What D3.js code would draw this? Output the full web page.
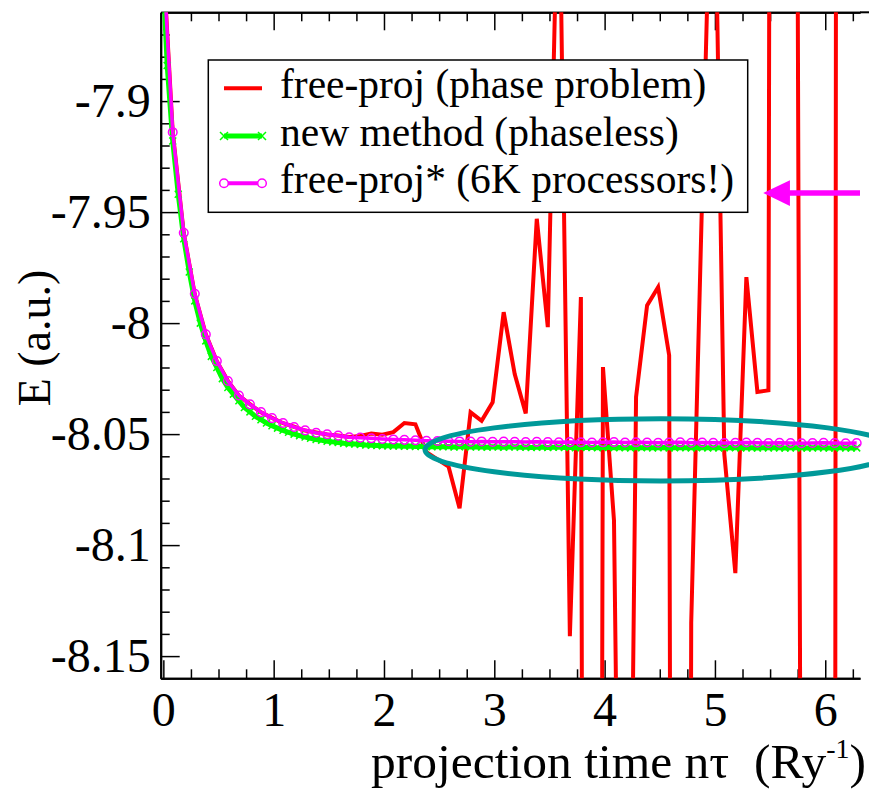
<!DOCTYPE html>
<html>
<head>
<meta charset="utf-8">
<script src="https://cdn.jsdelivr.net/npm/d3@7"></script>
<style>
  body { margin: 0; background: #fff; }
  svg { display: block; }
  svg text { font-family: "Liberation Serif", "Times New Roman", Tinos, "Nimbus Roman", "DejaVu Serif", serif; }
</style>
</head>
<body>
<div id="chart"></div>
<script>
// sampling grids of the projection time (Ry^-1)
const coarseTimes = d3.range(64).map(i => -0.015 + 0.1 * i);
const fineTimes = d3.range(127).map(i => -0.015 + 0.05 * i);

// free-proj (phase problem), one value per coarse time
const freeProj = [
  -7.824, -7.914, -7.9595, -7.9870, -8.0050, -8.0172, -8.0260, -8.0327, -8.0365, -8.0402,
  -8.0427, -8.0451, -8.0467, -8.0484, -8.0493, -8.0502, -8.0506, -8.0513, -8.0508, -8.0497,
  -8.0503, -8.0491, -8.0450, -8.0456, -8.0581, -8.0614, -8.0646, -8.0834, -8.0402, -8.0440,
  -8.0357, -7.9951, -8.0230, -8.0407, -7.9530, -8.0018, -7.7800, -8.1410, -7.9883, -10.0,
  -8.0198, -8.0890, -8.5000, -8.0333, -7.9920, -7.9838, -8.0145, -10.0, -8.1350, -7.9410,
  -7.7500, -8.0590, -8.1126, -7.9793, -8.0310, -8.0303, -5.5, -6.9, -8.35, -8.6,
  -8.8, -8.5, -3.0, -3.0
];

// new method (phaseless), one value per fine time
const newMethod = [
  -7.830, -7.884, -7.918, -7.942, -7.962, -7.977, -7.990, -8.000, -8.008, -8.015,
  -8.020, -8.025, -8.029, -8.032, -8.035, -8.038, -8.040, -8.042, -8.0435, -8.045,
  -8.0462, -8.0473, -8.0483, -8.0492, -8.0500, -8.0507, -8.0513, -8.0519, -8.0524, -8.0528,
  -8.0532, -8.0535, -8.0538, -8.0541, -8.0543, -8.0545, -8.0547, -8.0549, -8.0550, -8.0551,
  -8.0552,
  -8.0553, -8.0554, -8.0553, -8.0555, -8.0554, -8.0556, -8.0555, -8.0556, -8.0557, -8.0556,
  -8.0557, -8.0556, -8.0558, -8.0557, -8.0556, -8.0558, -8.0557, -8.0558, -8.0559, -8.0557,
  -8.0558, -8.0559, -8.0558, -8.0557, -8.0559, -8.0558, -8.0560, -8.0559, -8.0558, -8.0560,
  -8.0559, -8.0558, -8.0560, -8.0559, -8.0561, -8.0560, -8.0559, -8.0560, -8.0561, -8.0560,
  -8.0559, -8.0561, -8.0560, -8.0561, -8.0562, -8.0560, -8.0561, -8.0560, -8.0562, -8.0561,
  -8.0560, -8.0562, -8.0561, -8.0560, -8.0561, -8.0562, -8.0561, -8.0560, -8.0562, -8.0561,
  -8.0562, -8.0561, -8.0560, -8.0561, -8.0562, -8.0561, -8.0562, -8.0563, -8.0561, -8.0562,
  -8.0561, -8.0562, -8.0563, -8.0562, -8.0561, -8.0562, -8.0563, -8.0562, -8.0561, -8.0562,
  -8.0563, -8.0562, -8.0561, -8.0562, -8.0563, -8.0562
];

// free-proj* (6K processors!), one value per coarse time
const freeProjStar = [
  -7.824, -7.914, -7.9593, -7.9868, -8.0051, -8.0171, -8.0261, -8.0326, -8.0366, -8.0401,
  -8.0428, -8.0450, -8.0468, -8.0483, -8.0494, -8.0501, -8.0507, -8.0514, -8.0516, -8.0519,
  -8.0522, -8.0524, -8.0526, -8.0528, -8.0530, -8.0531, -8.0532,
  -8.0533, -8.0534, -8.0533, -8.0535, -8.0534, -8.0535, -8.0536, -8.0535, -8.0536, -8.0537,
  -8.0536, -8.0537, -8.0538, -8.0537, -8.0536, -8.0538, -8.0537, -8.0538, -8.0539, -8.0538,
  -8.0537, -8.0539, -8.0538, -8.0539, -8.0540, -8.0539, -8.0538, -8.0539, -8.0540, -8.0539,
  -8.0540, -8.0541, -8.0540, -8.0539, -8.0540, -8.0541, -8.0540
];

const seriesNames = ["free-proj (phase problem)", "new method (phaseless)", "free-proj* (6K processors!)"];
const seriesColors = ["#ff0000", "#00ff00", "#ff00ff"];

const xTicks = [0, 1, 2, 3, 4, 5, 6];
const xTickLabels = ["0", "1", "2", "3", "4", "5", "6"];
const xMinorTicks = d3.range(26).map(i => i * 0.25).filter(v => v % 1 !== 0);
const yTicks = [-8.15, -8.1, -8.05, -8, -7.95, -7.9];
const yTickLabels = ["-8.15", "-8.1", "-8.05", "-8", "-7.95", "-7.9"];
const yMinorTicks = d3.range(30).map(i => -8.16 + 0.01 * i).filter(v => Math.abs(v * 20 - Math.round(v * 20)) > 0.01);

// annotations, in data units
const arrowLevel = -7.9414, arrowTip = 5.438, arrowBase = 5.68, arrowHalf = 0.0058;
const ringCenter = [4.511, -8.0571], ringRadius = [2.139, 0.0140];

const width = 869;
const height = 791;
const plotLeft = 160.7, plotRight = 860, plotTop = 12.3, plotBottom = 678.3;

const svg = d3.select("#chart")
  .append("svg")
  .attr("width", width)
  .attr("height", height)
  .attr("viewBox", [0, 0, width, height]);

const x = d3.scaleLinear([-0.024, 6.315], [plotLeft, plotRight]);
const y = d3.scaleLinear([-8.16, -7.86], [plotBottom, plotTop]);

svg.append("clipPath").attr("id", "plot")
  .append("rect")
  .attr("x", plotLeft).attr("y", plotTop)
  .attr("width", width - plotLeft).attr("height", plotBottom - plotTop);

// axes, ticks pointing inside
function styleAxis(g) {
  g.attr("font-family", null);
  g.select(".domain").attr("stroke-width", 2);
  g.selectAll(".tick line").attr("stroke-width", 1.5);
  g.selectAll("text")
    .attr("font-size", 48)
    .attr("fill", "#000");
}

svg.append("g")
  .attr("transform", `translate(0,${plotBottom})`)
  .call(d3.axisBottom(x).tickValues(xMinorTicks).tickSize(-9).tickSizeOuter(0).tickFormat(""))
  .call(styleAxis);
svg.append("g")
  .attr("transform", `translate(0,${plotBottom})`)
  .call(d3.axisBottom(x).tickValues(xTicks).tickSize(-18).tickSizeOuter(0).tickPadding(14)
    .tickFormat((d, i) => xTickLabels[i]))
  .call(styleAxis);

svg.append("g")
  .attr("transform", `translate(0,${plotTop})`)
  .call(d3.axisTop(x).tickValues(xMinorTicks).tickSize(-9).tickSizeOuter(0).tickFormat(""))
  .call(styleAxis);
svg.append("g")
  .attr("transform", `translate(0,${plotTop})`)
  .call(d3.axisTop(x).tickValues(xTicks).tickSize(-18).tickSizeOuter(0).tickFormat(""))
  .call(styleAxis);
// the frame's top edge runs on to the picture border
svg.append("line")
  .attr("x1", plotRight).attr("x2", width)
  .attr("y1", plotTop).attr("y2", plotTop)
  .attr("stroke", "#000")
  .attr("stroke-width", 2);

svg.append("g")
  .attr("transform", `translate(${plotLeft},0)`)
  .call(d3.axisLeft(y).tickValues(yMinorTicks).tickSize(-9).tickSizeOuter(0).tickFormat(""))
  .call(styleAxis);
svg.append("g")
  .attr("transform", `translate(${plotLeft},0)`)
  .call(d3.axisLeft(y).tickValues(yTicks).tickSize(-19).tickSizeOuter(0).tickPadding(10)
    .tickFormat((d, i) => yTickLabels[i]))
  .call(styleAxis);

// axis titles
svg.append("text")
  .attr("transform", `translate(50,338) rotate(-90)`)
  .attr("text-anchor", "middle")
  .attr("font-size", 46)
  .text("E (a.u.)");

const xTitle = svg.append("text")
  .attr("x", 866)
  .attr("y", 778)
  .attr("text-anchor", "end")
  .attr("font-size", 49.5)
  .style("white-space", "pre");
xTitle.append("tspan").text("projection time n\u03c4  (Ry");
xTitle.append("tspan").attr("font-size", 28).attr("dy", -20).text("-1");
xTitle.append("tspan").attr("dy", 20).text(")");

// data lines
const plot = svg.append("g").attr("clip-path", "url(#plot)");

const line = d3.line()
  .x(d => x(d[0]))
  .y(d => y(d[1]));

const redPts = coarseTimes.map((t, i) => [t, freeProj[i]]);
const greenPts = fineTimes.map((t, i) => [t, newMethod[i]]);
const magPts = coarseTimes.map((t, i) => [t, freeProjStar[i]]);

plot.append("path")
  .attr("d", line(redPts))
  .attr("fill", "none")
  .attr("stroke", seriesColors[0])
  .attr("stroke-width", 4)
  .attr("stroke-linejoin", "miter");

plot.append("path")
  .attr("d", line(greenPts))
  .attr("fill", "none")
  .attr("stroke", seriesColors[1])
  .attr("stroke-width", 5);

plot.selectAll(".xmark")
  .data(greenPts)
  .join("path")
  .attr("class", "xmark")
  .attr("transform", d => `translate(${x(d[0])},${y(d[1])})`)
  .attr("d", "M-3.5,-3.5L3.5,3.5M-3.5,3.5L3.5,-3.5")
  .attr("stroke", seriesColors[1])
  .attr("stroke-width", 1.5);

plot.append("path")
  .attr("d", line(magPts))
  .attr("fill", "none")
  .attr("stroke", seriesColors[2])
  .attr("stroke-width", 3.5);

plot.selectAll(".omark")
  .data(magPts)
  .join("circle")
  .attr("class", "omark")
  .attr("cx", d => x(d[0]))
  .attr("cy", d => y(d[1]))
  .attr("r", 4.3)
  .attr("fill", "none")
  .attr("stroke", seriesColors[2])
  .attr("stroke-width", 1.5);

// teal ring round the plateau
svg.append("ellipse")
  .attr("cx", x(ringCenter[0]))
  .attr("cy", y(ringCenter[1]))
  .attr("rx", x(ringCenter[0] + ringRadius[0]) - x(ringCenter[0]))
  .attr("ry", y(ringCenter[1]) - y(ringCenter[1] + ringRadius[1]))
  .attr("fill", "none")
  .attr("stroke", "#009999")
  .attr("stroke-width", 5);

// arrow
svg.append("line")
  .attr("x1", x(arrowBase) - 2)
  .attr("x2", x(6.315))
  .attr("y1", y(arrowLevel))
  .attr("y2", y(arrowLevel))
  .attr("stroke", seriesColors[2])
  .attr("stroke-width", 5.5);
svg.append("path")
  .attr("d", `M${x(arrowTip)},${y(arrowLevel)}L${x(arrowBase)},${y(arrowLevel + arrowHalf)}L${x(arrowBase)},${y(arrowLevel - arrowHalf)}Z`)
  .attr("fill", seriesColors[2]);

// legend
const legend = svg.append("g");
legend.append("rect")
  .attr("x", 208.3).attr("y", 60)
  .attr("width", 539.4).attr("height", 152.3)
  .attr("fill", "#fff")
  .attr("stroke", "#000")
  .attr("stroke-width", 1.5);

const rowY = [88.3, 136, 183.3];
seriesNames.forEach((name, i) => {
  const row = legend.append("g").attr("transform", `translate(0,${rowY[i]})`);
  row.append("line")
    .attr("x1", 224).attr("x2", 262)
    .attr("stroke", seriesColors[i])
    .attr("stroke-width", i === 1 ? 5 : 4);
  if (i === 1) {
    [224, 262].forEach(px => row.append("path")
      .attr("transform", `translate(${px},0)`)
      .attr("d", "M-4,-4L4,4M-4,4L4,-4")
      .attr("stroke", seriesColors[1])
      .attr("stroke-width", 1.5));
  }
  if (i === 2) {
    [224, 262].forEach(px => row.append("circle")
      .attr("cx", px).attr("r", 4.3)
      .attr("fill", "#fff")
      .attr("stroke", seriesColors[2])
      .attr("stroke-width", 1.5));
  }
  row.append("text")
    .attr("x", 280)
    .attr("y", 10)
    .attr("font-size", 41.5)
    .text(name);
});
</script>
</body>
</html>
